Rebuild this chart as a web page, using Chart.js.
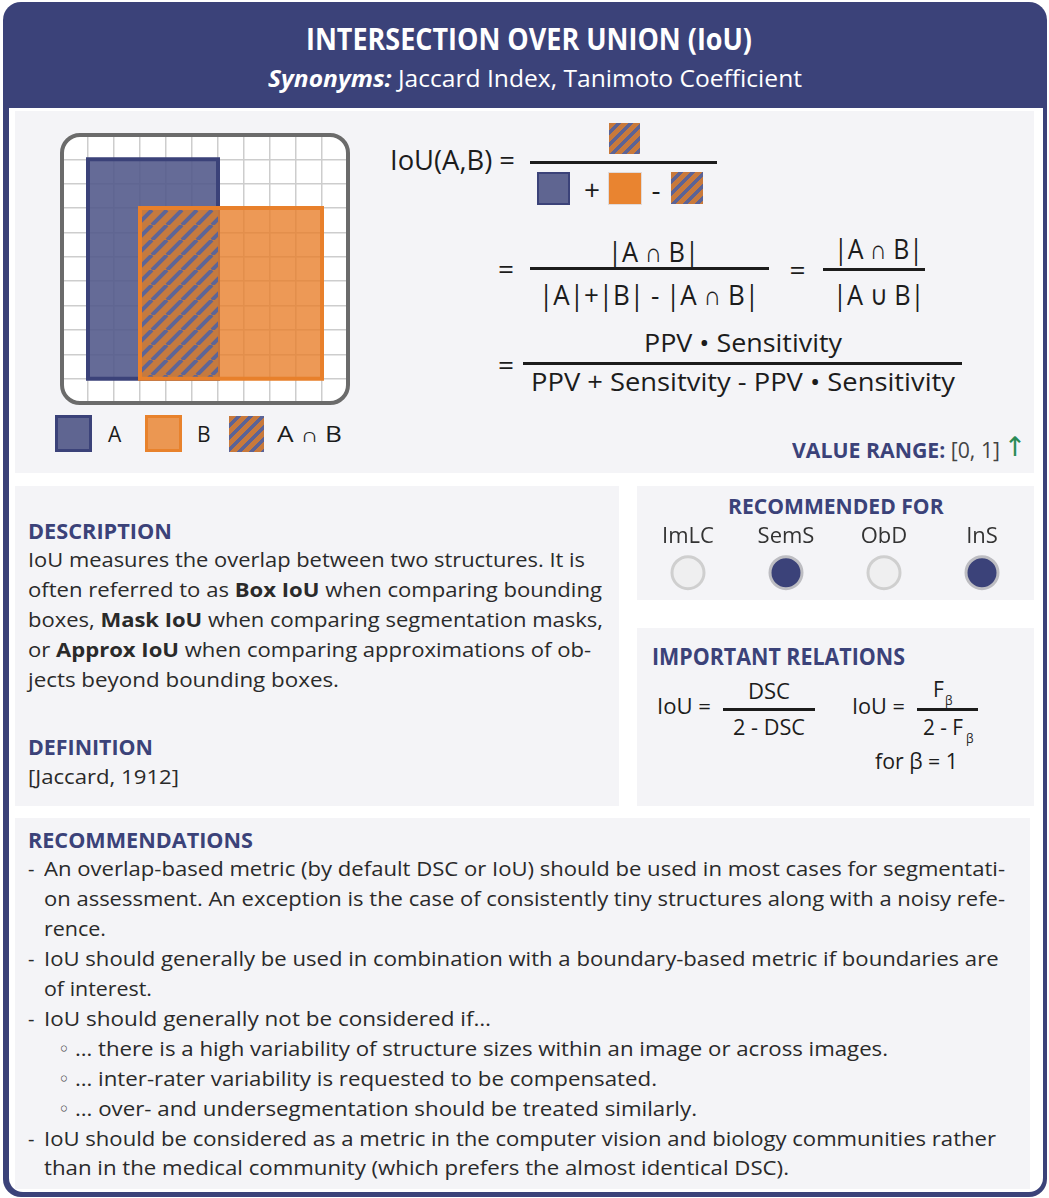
<!DOCTYPE html>
<html><head><meta charset="utf-8">
<script src="https://cdn.jsdelivr.net/npm/chart.js@4.4.1/dist/chart.umd.min.js"></script>
<style>
html,body{margin:0;padding:0;background:#fff;width:1049px;height:1198px;overflow:hidden;font-family:"Open Sans",sans-serif;color:#2a2a2a}
.a{position:absolute}
#frame{left:3px;top:2px;width:1044px;height:1195px;background:#3b4279;border-radius:18px}
#inner{left:9px;top:108px;width:1034px;height:1084px;background:#fff;border-radius:0 0 14px 14px}
.panel{position:absolute;background:#f4f4f7}
.t{position:absolute;white-space:nowrap}
.hatch{position:absolute;background:repeating-linear-gradient(135deg,#c8793b 0 5.5px,#5c6395 5.5px 8.5px)}
.cap{font-size:0.95em}
</style>
</head><body>
<div id="frame" class="a"></div>
<div id="inner" class="a"></div>
<div class="panel" style="left:15px;top:111px;width:1019px;height:362px"></div>
<div class="panel" style="left:15px;top:486px;width:604px;height:320px"></div>
<div class="panel" style="left:637px;top:486px;width:397px;height:114px"></div>
<div class="panel" style="left:637px;top:628px;width:397px;height:178px"></div>
<div class="panel" style="left:15px;top:818px;width:1015px;height:371px"></div>

<div class="a" style="left:60px;top:133px;width:290px;height:272px;box-sizing:border-box;border:4px solid #6b6b6b;border-radius:20px;overflow:hidden;background:#fff">
  <canvas id="iou" width="286" height="268" style="position:absolute;left:-2px;top:-2px;width:286px;height:268px"></canvas>
</div>
<canvas id="rec" class="a" width="430" height="90" style="left:620px;top:524px;width:430px;height:90px"></canvas>

<script>
// ---- data ----
const boxNames = ['A', 'B', 'A ∩ B'];
const boxX0 = [1, 3, 3];
const boxX1 = [6, 10, 6];
const boxY0 = [1, 1, 1];
const boxY1 = [10, 8, 8];
const gridMax = 11;
const tasks = ['ImLC', 'SemS', 'ObD', 'InS'];
const recommended = [0, 1, 0, 1];

const NAVY = '#3b4279';
function rect(i){
  return [{x:boxX0[i],y:boxY0[i]},{x:boxX0[i],y:boxY1[i]},{x:boxX1[i],y:boxY1[i]},{x:boxX1[i],y:boxY0[i]},{x:boxX0[i],y:boxY0[i]}];
}
function makeHatch(size, base, stripe, lw){
  const c=document.createElement('canvas'); c.width=c.height=size;
  const x=c.getContext('2d'); x.fillStyle=base; x.fillRect(0,0,size,size);
  x.strokeStyle=stripe; x.lineWidth=lw; x.beginPath();
  for(const o of [-size,0,size]){ x.moveTo(o,size); x.lineTo(o+size,0); }
  x.stroke();
  return x.createPattern(c,'repeat');
}
const gridScale = {type:'linear',min:0,max:gridMax,ticks:{display:false,stepSize:1},
  grid:{color:'#cdcdcd',lineWidth:1.5,drawTicks:false},border:{display:false}};
const base = {showLine:true,pointRadius:0,borderJoinStyle:'miter',borderCapStyle:'square',tension:0};
new Chart(document.getElementById('iou'),{
  type:'scatter',
  data:{datasets:[
    Object.assign({label:boxNames[0],data:rect(0),fill:'shape',backgroundColor:'rgba(84,91,140,0.9)',borderColor:NAVY,borderWidth:4,order:4},base),
    Object.assign({label:boxNames[1],data:rect(1),fill:'shape',backgroundColor:'rgba(233,128,44,0.8)',borderColor:'rgba(0,0,0,0)',borderWidth:0.01,order:3},base),
    Object.assign({label:boxNames[2],data:rect(2),fill:'shape',backgroundColor:makeHatch(15,'#c57a3f','#5e6596',4),borderColor:'rgba(0,0,0,0)',borderWidth:0.01,order:2},base),
    Object.assign({label:boxNames[1]+' outline',data:rect(1),fill:false,borderColor:'#e8802b',borderWidth:4,order:1},base)
  ]},
  options:{responsive:false,animation:false,events:[],layout:{padding:0},
    plugins:{legend:{display:false},tooltip:{enabled:false}},
    scales:{x:gridScale,y:gridScale}}
});
new Chart(document.getElementById('rec'),{
  type:'line',
  data:{labels:tasks,datasets:[{data:tasks.map(()=>0),showLine:false,clip:false,pointRadius:16,pointHoverRadius:16,pointBorderWidth:3,
    pointBackgroundColor:recommended.map(r=>r?NAVY:'#efeff0'),pointBorderColor:recommended.map(r=>r?'#bdbdc2':'#cfcfcf')}]},
  options:{responsive:false,animation:false,events:[],layout:{padding:0},
    plugins:{legend:{display:false},tooltip:{enabled:false}},
    scales:{x:{type:'category',position:'top',offset:true,grid:{display:false,drawTicks:false},border:{display:false},
      ticks:{padding:0,color:'#333',font:{family:'Open Sans',size:22}}},
      y:{display:false,min:-1,max:1}}}
});

// ---- text helpers ----
function T(html,x,yc,size,o={}){
  const d=document.createElement('div'); d.className='t'; d.innerHTML=html;
  d.style.fontSize=size+'px'; d.style.lineHeight=size+'px';
  d.style.top=(yc-0.53*size)+'px';
  if(o.weight) d.style.fontWeight=o.weight;
  if(o.color) d.style.color=o.color;
  if(o.style) d.style.fontStyle=o.style;
  if(o.font) d.style.fontFamily=o.font;
  document.body.appendChild(d);
  const w=d.getBoundingClientRect().width;
  const s=o.w? o.w/w : 1;
  const al=o.align||'left';
  const left= al==='left'? x : al==='center'? x-w*s/2 : x-w*s;
  d.style.left=left+'px'; d.style.transformOrigin='0 0'; d.style.transform='scaleX('+s+')';
  return d;
}
function box(x,y,w,h,css){const d=document.createElement('div');d.style.cssText='position:absolute;box-sizing:border-box;left:'+x+'px;top:'+y+'px;width:'+w+'px;height:'+h+'px;'+css;document.body.appendChild(d);return d;}
function line(x,y,w,h){box(x,y,w,h||3,'background:#1c1c1c');}
function hatch(x,y,w,h){const d=box(x,y,w,h,'');d.className='hatch';}

// header
T('INTERSECTION OVER UNION (IoU)',306,40,30,{weight:700,color:'#fff',w:446});
T('<b><i>Synonyms:</i></b> Jaccard Index, Tanimoto Coefficient',268,79,23,{color:'#fff',w:534});

// formula block
const F='#1c1c1c';
T('IoU(A,B) =',390,160,28,{w:125,color:F});
line(530,161,187,3);
hatch(609,123,31,31);
box(537,172,33,33,'background:#5f6591;border:2px solid '+NAVY);
T('+',592,190,28,{align:'center',color:F});
box(608,172,34,33,'background:#e98430;border:1px solid #e0dada');
T('-',656,190,28,{align:'center',color:F});
hatch(671,172,32,32);

const CAP='<span class="cap">∩</span>', CUP='<span class="cap">∪</span>';
T('=',506,269,28,{align:'center',color:F});
T('|A '+CAP+' B|',608,251.7,28,{w:91,color:F});
line(530,267,239,3);
T('|A|+|B| - |A '+CAP+' B|',539,294.5,28,{w:220,color:F});
T('=',797.5,270,28,{align:'center',color:F});
T('|A '+CAP+' B|',834,249,28,{w:89,color:F});
line(823,268,102,3);
T('|A '+CUP+' B|',832.5,295,28,{w:91.5,color:F});

T('=',506,365,28,{align:'center',color:F});
T('PPV • Sensitivity',643.5,343.7,25,{w:198,color:F});
line(523,362,439,3);
T('PPV + Sensitvity - PPV • Sensitivity',531,382.5,25,{w:424,color:F});

T('<b style="color:'+NAVY+'">VALUE RANGE:</b> [0, 1]',792,451,21,{w:208,color:'#444'});
T('↑',1015,447,27,{align:'center',color:'#2a8a55',font:'DejaVu Sans'});

// legend of diagram
box(55,415,37,37,'background:#5f6591;border:3px solid '+NAVY);
T('A',108,435,21,{color:F});
box(145,415,37,37,'background:#eb9752;border:3px solid #e8822c');
T('B',197,435,21,{color:F});
hatch(229,416,35,36);
T('A '+CAP+' B',277,435,21,{w:65,color:F});

// description
T('DESCRIPTION',28,530.5,22,{weight:700,color:NAVY,w:144});
const desc=[
 ['IoU measures the overlap between two structures. It is',557],
 ['often referred to as <b>Box IoU</b> when comparing bounding',574],
 ['boxes, <b>Mask IoU</b> when comparing segmentation masks,',575],
 ['or <b>Approx IoU</b> when comparing approximations of ob-',563],
 ['jects beyond bounding boxes.',311]];
desc.forEach((d,i)=>T(d[0],28,561+30*i,20,{w:d[1]}));
T('DEFINITION',28,746.7,22,{weight:700,color:NAVY,w:125});
T('[Jaccard, 1912]',28,777.5,20,{w:151});

// recommended for / relations
T('RECOMMENDED FOR',835.5,505.3,22,{weight:700,color:NAVY,w:215.6,align:'center'});
T('IMPORTANT RELATIONS',651.7,656.7,23,{weight:700,color:NAVY,w:253});
T('IoU =',656.7,706,22,{w:54,color:F});
T('DSC',748,692.5,21,{w:42,color:F});
line(723,708,92,2.5);
T('2 - DSC',732.7,728,21,{w:72,color:F});
T('IoU =',851.7,706,22,{w:53,color:F});
T('F',933,690,21,{color:F});
T('β',945,701,12,{color:F});
line(917,708,61,2.5);
T('2 - F',923.3,728,21,{w:40,color:F});
T('β',966,739,12,{color:F});
T('for β = 1',875,762,21,{w:83,color:F});

// recommendations
T('RECOMMENDATIONS',28,839.7,22,{weight:700,color:NAVY,w:225});
const recs=[
 ['-','An overlap-based metric (by default DSC or IoU) should be used in most cases for segmentati-',1005],
 ['','on assessment. An exception is the case of consistently tiny structures along with a noisy refe-',1005],
 ['','rence.',106],
 ['-','IoU should generally be used in combination with a boundary-based metric if boundaries are',998.6],
 ['','of interest.',152],
 ['-','IoU should generally not be considered if…',491],
 ['◦','… there is a high variability of structure sizes within an image or across images.',888],
 ['◦','… inter-rater variability is requested to be compensated.',657],
 ['◦','… over- and undersegmentation should be treated similarly.',697],
 ['-','IoU should be considered as a metric in the computer vision and biology communities rather',996],
 ['','than in the medical community (which prefers the almost identical DSC).',789]];
recs.forEach((r,i)=>{
  const yc=870+29.9*i;
  const sub=r[0]==='◦';
  if(r[0]==='-') T('-',28,yc,20);
  if(sub) T('◦',64,yc,20,{align:'center',color:'#444',font:'DejaVu Sans'});
  const x0=sub?75:44;
  T(r[1],x0,yc,20,{w:r[2]-x0});
});
</script>
</body></html>
